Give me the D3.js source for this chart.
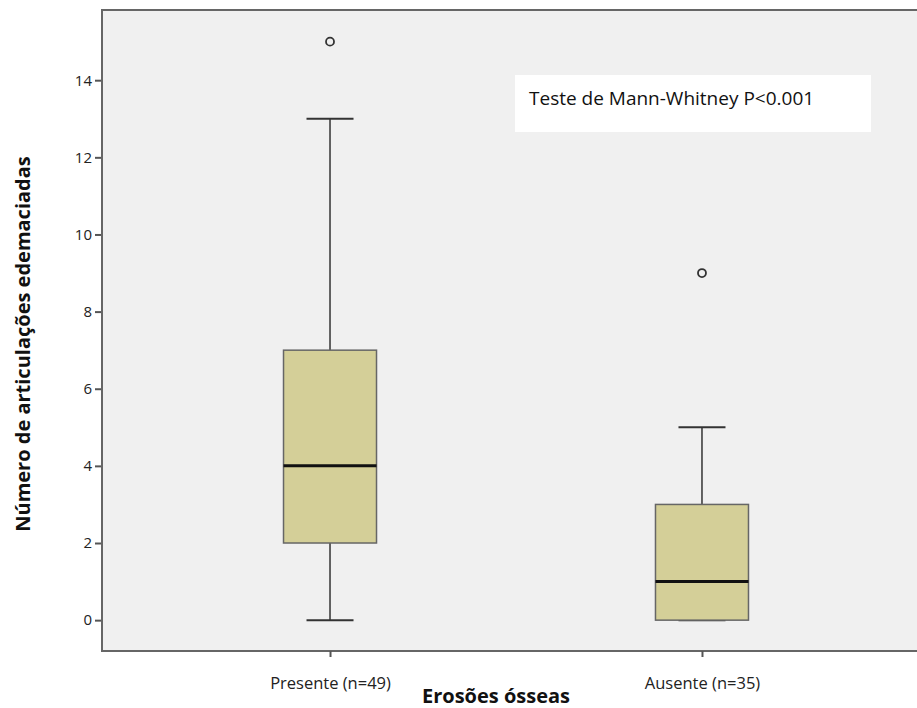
<!DOCTYPE html>
<html><head><meta charset="utf-8">
<script src="https://cdn.jsdelivr.net/npm/d3@7"></script>
<style>body{margin:0;background:#fff}</style>
</head><body>
<svg id="chart" width="917" height="708"></svg>
<script>
const categories = ["Presente (n=49)", "Ausente (n=35)"];
const whiskerLow = [0, 0];
const q1 = [2, 0];
const median = [4, 1];
const q3 = [7, 3];
const whiskerHigh = [13, 5];
const outliers = [[15], [9]];
const yTicks = [0, 2, 4, 6, 8, 10, 12, 14];
const yTitle = "Número de articulações edemaciadas";
const xTitle = "Erosões ósseas";
const annotation = "Teste de Mann-Whitney P<0.001";

const svg = d3.select("#chart");
const pLeft = 102, pRight = 930, pTop = 10, pBottom = 651;
const font = "Open Sans, sans-serif";

const y = d3.scaleLinear().domain([-0.8, 15.82]).range([pBottom, pTop]);
const x = d3.scalePoint().domain(categories).range([pLeft, pRight]).padding(0.613);

svg.append("rect").attr("x", pLeft).attr("y", pTop).attr("width", pRight - pLeft).attr("height", pBottom - pTop)
  .attr("fill", "#f0f0f0").attr("stroke", "#666").attr("stroke-width", 2);

// y axis
const yAxis = d3.axisLeft(y).tickValues(yTicks).tickSize(7).tickSizeOuter(0).tickPadding(3);
const gy = svg.append("g").attr("transform", `translate(${pLeft},0)`).call(yAxis);
gy.select(".domain").remove();
gy.selectAll(".tick line").attr("stroke", "#555").attr("stroke-width", 2);
gy.selectAll(".tick text").attr("font-family", font).attr("font-size", 15).attr("fill", "#222");

// x axis
const xAxis = d3.axisBottom(x).tickSize(6).tickSizeOuter(0).tickPadding(20);
const gx = svg.append("g").attr("transform", `translate(0,${pBottom})`).call(xAxis);
gx.select(".domain").remove();
gx.selectAll(".tick line").attr("stroke", "#555").attr("stroke-width", 2);
gx.selectAll(".tick text").attr("font-family", font).attr("font-size", 16.5).attr("fill", "#222");

svg.append("line").attr("x1", pLeft).attr("x2", pLeft).attr("y1", pTop).attr("y2", pBottom).attr("stroke", "#666").attr("stroke-width", 2);

const boxW = 93, capW = 47;
categories.forEach((c, i) => {
  const cx = x(c);
  const g = svg.append("g");
  g.append("line").attr("x1", cx).attr("x2", cx).attr("y1", y(whiskerHigh[i])).attr("y2", y(q3[i])).attr("stroke", "#333").attr("stroke-width", 1.5);
  g.append("line").attr("x1", cx).attr("x2", cx).attr("y1", y(q1[i])).attr("y2", y(whiskerLow[i])).attr("stroke", "#333").attr("stroke-width", 1.5);
  g.append("line").attr("x1", cx - capW / 2).attr("x2", cx + capW / 2).attr("y1", y(whiskerHigh[i])).attr("y2", y(whiskerHigh[i])).attr("stroke", "#333").attr("stroke-width", 2);
  g.append("line").attr("x1", cx - capW / 2).attr("x2", cx + capW / 2).attr("y1", y(whiskerLow[i])).attr("y2", y(whiskerLow[i])).attr("stroke", "#333").attr("stroke-width", 2);
  g.append("rect").attr("x", cx - boxW / 2).attr("y", y(q3[i])).attr("width", boxW).attr("height", y(q1[i]) - y(q3[i]))
    .attr("fill", "#d4cf98").attr("stroke", "#666").attr("stroke-width", 1.5);
  g.append("line").attr("x1", cx - boxW / 2).attr("x2", cx + boxW / 2).attr("y1", y(median[i])).attr("y2", y(median[i])).attr("stroke", "#111").attr("stroke-width", 3);
  outliers[i].forEach(v => {
    g.append("circle").attr("cx", cx).attr("cy", y(v)).attr("r", 4).attr("fill", "none").attr("stroke", "#333").attr("stroke-width", 1.8);
  });
});

svg.append("rect").attr("x", 515).attr("y", 75).attr("width", 356).attr("height", 57).attr("fill", "#fff");
svg.append("text").attr("x", 529).attr("y", 105).attr("font-family", font).attr("font-size", 19).attr("fill", "#111").text(annotation);

svg.append("text").attr("x", 496).attr("y", 703).attr("text-anchor", "middle").attr("font-family", font)
  .attr("font-size", 20).attr("font-weight", "bold").attr("fill", "#111").text(xTitle);
svg.append("text").attr("transform", "translate(30,344) rotate(-90)").attr("text-anchor", "middle").attr("font-family", font)
  .attr("font-size", 20).attr("font-weight", "bold").attr("fill", "#111").text(yTitle);
</script>
</body></html>
